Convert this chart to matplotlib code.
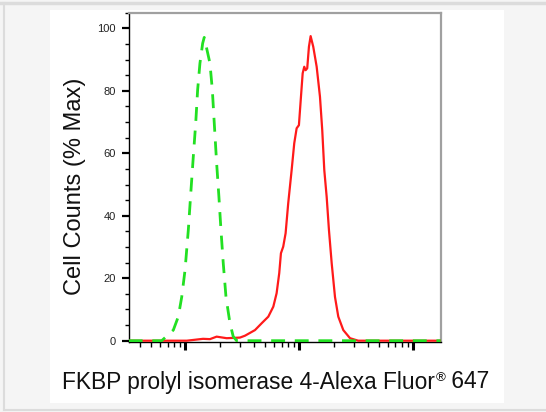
import matplotlib
matplotlib.use("Agg")
import matplotlib.pyplot as plt
from matplotlib.ticker import FixedLocator, LogLocator, NullFormatter
from matplotlib.patches import Rectangle
from matplotlib.lines import Line2D

plt.rcParams['font.family'] = ['Liberation Sans', 'DejaVu Sans']

# isotype control (green dashed)
ctrl_x = [317, 618, 782, 865, 927, 991, 1059, 1117, 1172, 1230, 1279, 1340, 1416,
          1462, 1535, 1641, 1722, 1791, 1879, 1968, 2051, 2148, 2270, 2460, 2630,
          2818, 175000]
ctrl_y = [0, 0, 3.4, 7.7, 14, 22.6, 35.4, 48, 59, 69.6, 80.3, 88.8, 95.2,
          97.1, 93.6, 88.8, 80.3, 69.6, 56.8, 46, 35.4, 24.8, 14, 5.6, 1.3,
          0, 0]

# FKBP4 stained sample (red)
samp_x = [317, 1026, 1426, 1641, 1879, 2301, 3013, 3334, 4083, 4677, 5346, 5916,
          6324, 6668, 6902, 7228, 7586, 7998, 8570, 9036, 9484, 9931, 10351,
          10715, 11066, 11376, 11749, 12162, 12589, 13274, 14223, 15205, 15922,
          16596, 17418, 18239, 19275, 20606, 22029, 24378, 27925, 32961, 175000]
samp_y = [0, 0, 0.6, 0.5, 1.3, 0.8, 1.0, 1.6, 3.4, 5.6, 7.7, 10.9,
          15.2, 21.6, 28, 30.1, 34.4, 44, 54.6, 63.2, 68, 69, 78.1,
          85.6, 87.7, 86.6, 87.2, 94.1, 97.5, 94.1, 87.7, 78.1, 67.4,
          54.6, 46, 35.4, 24.8, 14, 7.7, 3.4, 0.8, 0, 0]

y_ticks = [0, 20, 40, 60, 80, 100]
x_label = "FKBP prolyl isomerase 4-Alexa Fluor"

fig = plt.figure(figsize=(5.46, 4.12), dpi=100)
fig.patch.set_facecolor('#f5f5f5')

# white card behind the plot and thin page border
W, H = 546.0, 412.0
fig.add_artist(Rectangle((50 / W, 1 - 403 / H), 454 / W, 393 / H,
                         transform=fig.transFigure, facecolor='white',
                         edgecolor='none', zorder=0))
fig.add_artist(Line2D([0, 1], [1 - 3 / H, 1 - 3 / H], transform=fig.transFigure,
                      color='#dcdcdc', lw=2.5))
fig.add_artist(Line2D([4 / W, 4 / W], [1 - 410 / H, 1 - 3 / H],
                      transform=fig.transFigure, color='#dcdcdc', lw=1.5))
fig.add_artist(Line2D([4 / W, 1], [1 - 410 / H, 1 - 410 / H],
                      transform=fig.transFigure, color='#dcdcdc', lw=1.5))

ax = fig.add_axes([128.7 / W, 1 - 341.7 / H, 312 / W, 329 / H])
ax.set_facecolor('white')

ax.plot(samp_x, samp_y, color='#ff1a1a', lw=1.6, zorder=3)
ax.plot(ctrl_x, ctrl_y, color='#22e022', lw=2.0, dashes=(5, 3.5), zorder=4)

ax.set_xscale('log')
ax.set_xlim(317, 175000)
ax.set_ylim(-0.32, 105)

ax.xaxis.set_major_locator(FixedLocator([1e3, 1e4, 1e5]))
ax.xaxis.set_minor_locator(LogLocator(base=10, subs=range(2, 10), numticks=20))
ax.xaxis.set_major_formatter(NullFormatter())
ax.xaxis.set_minor_formatter(NullFormatter())
ax.tick_params(axis='x', which='major', direction='out', length=6, width=2.2, color='black')
ax.tick_params(axis='x', which='minor', direction='out', length=3.5, width=1, color='black')

ax.set_yticks(y_ticks)
ax.set_yticks(range(0, 106, 5), minor=True)
ax.tick_params(axis='y', which='major', direction='out', length=5, width=1.6,
               labelsize=8, pad=4.5, labelcolor='#222222')
ax.tick_params(axis='y', which='minor', direction='out', length=3, width=1)

for side in ['top', 'right']:
    ax.spines[side].set_color('#a0a0a0')
    ax.spines[side].set_linewidth(1.6)
for side in ['left', 'bottom']:
    ax.spines[side].set_color('black')
    ax.spines[side].set_linewidth(1.0)

ax.set_ylabel("Cell Counts (% Max)", fontsize=17, color='#111111')
ax.yaxis.set_label_coords(-0.136, 0.471)

t1 = fig.text(62 / W, 1 - 382 / H, x_label, fontsize=16.4, color='#111111',
              ha='left', va='center')
t2 = ax.annotate("®", xy=(1, 1), xycoords=t1, xytext=(0.5, -1), textcoords='offset points',
                 fontsize=9.5, ha='left', va='top', color='#111111')
ax.annotate(" 647", xy=(1, 0), xycoords=(t2, t1), xytext=(0, 0), textcoords='offset points',
            fontsize=16.4, ha='left', va='bottom', color='#111111')

fig.savefig("out.png", dpi=100, facecolor=fig.get_facecolor())
